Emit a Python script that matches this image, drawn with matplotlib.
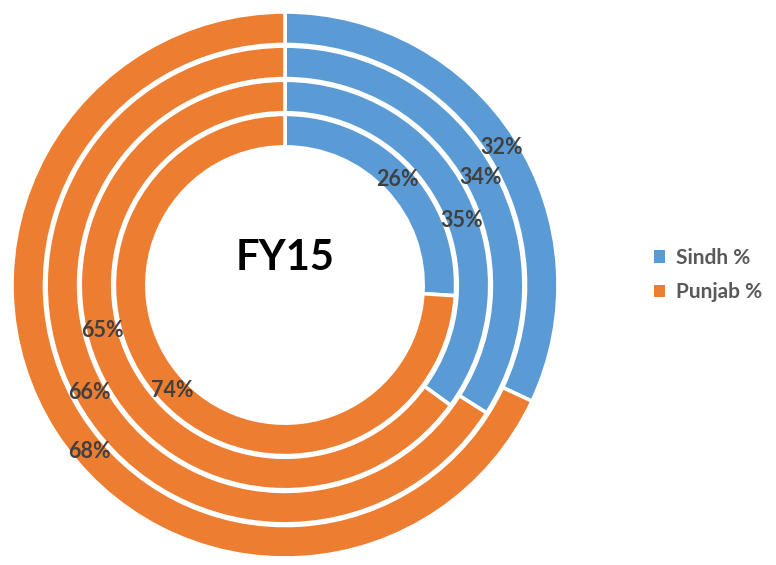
import numpy as np
import matplotlib.pyplot as plt
from matplotlib.patches import Patch

plt.rcParams['font.family'] = ['Lato', 'DejaVu Sans']

# outer ring first
sindh = [32, 34, 35, 26]
punjab = [68, 66, 65, 74]
series = ['Sindh %', 'Punjab %']
colors = ['#5B9BD5', '#ED7D31']
center_text = 'FY15'

# small angle nudges (degrees) for labels, like Excel moves them
nudge_sindh = [0, 0, 7, 0]
nudge_punjab = [-8, 0, 13, 0]

fig = plt.figure(figsize=(7.76, 5.65), dpi=100)
ax = fig.add_axes([12/776, 7/565, 546/776, 546/565])
ax.set_aspect('equal')

radii = [1.0, 0.875, 0.75, 0.625]
width = 0.119
for i, r in enumerate(radii):
    vals = [sindh[i], punjab[i]]
    wedges, _ = ax.pie(vals, radius=r, startangle=90, counterclock=False,
                       colors=colors,
                       wedgeprops=dict(width=width, edgecolor='white', linewidth=2.6))
    # labels at middle of each segment
    tot = sum(vals)
    start = 0
    for v, nd in zip(vals, [nudge_sindh[i], nudge_punjab[i]]):
        mid = np.deg2rad(360 * (start + v / 2) / tot + nd)
        rr = r - width / 2
        ax.text(rr * np.sin(mid), rr * np.cos(mid), f'{v}%', ha='center', va='center',
                fontsize=15.5, fontweight='bold', color='#404040')
        start += v

ax.text(0, 0.1, center_text, ha='center', va='center', fontsize=30, fontweight='bold', color='black')
ax.set_xlim(-1, 1)
ax.set_ylim(-1, 1)

handles = [Patch(facecolor=c, edgecolor='none') for c in colors]
fig.legend(handles, series, loc='center left', bbox_to_anchor=(635/776, 1 - 275/565),
           frameon=False, prop=dict(size=15, weight='bold'), labelcolor='#595959',
           handlelength=0.55, handleheight=0.55, handletextpad=0.5, labelspacing=0.7)

fig.savefig('out.png', dpi=100)
